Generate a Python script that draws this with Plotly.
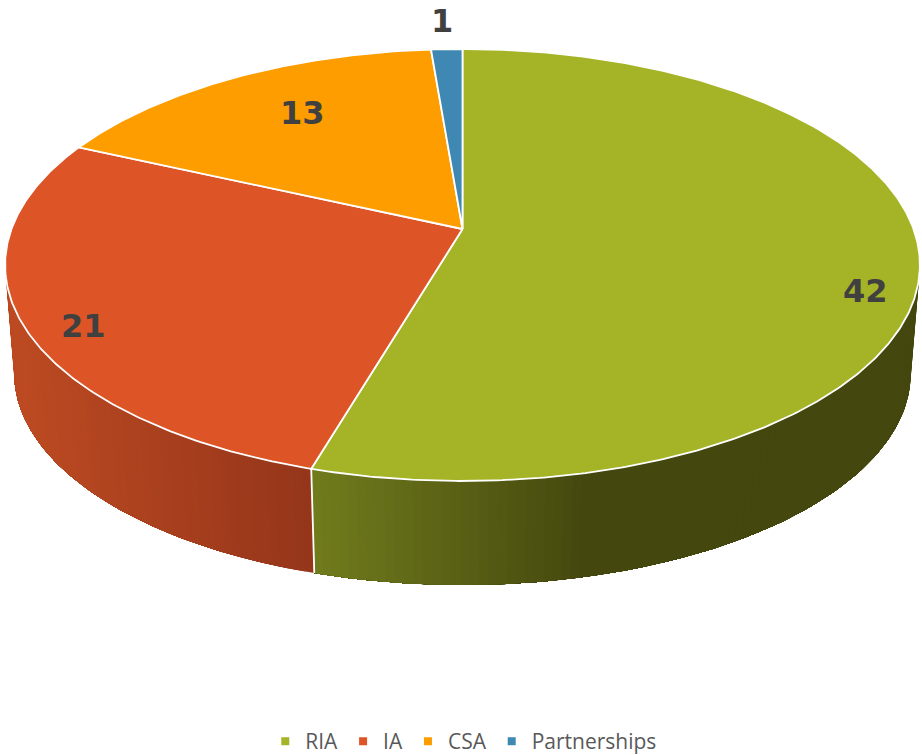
import math
import plotly.graph_objects as go

# --- data ---
categories = ["RIA", "IA", "CSA", "Partnerships"]
values = [42, 21, 13, 1]
colors = ["#A5B427", "#DD5426", "#FE9D00", "#3F88B3"]

# --- layout / projection constants ---
W, H = 922, 755
CX, CY = 462.5, 229.0      # apex of the pie on the page
RX, RY = 451.0, 210.0      # radii of the un-projected disc
K = 1 / 6                  # perspective strength
DEPTH = 109.0              # vertical offset of the bottom disc
BOTTOM_SCALE = 0.98
LABEL_XY = [(865, 291), (83, 326), (302, 113), (442, 20.5)]
SIDE_RAMP = {
    "IA": ((18, (188, 74, 34)), (316, (148, 53, 26))),
    "RIA": ((316, (112, 123, 28)), (590, (68, 71, 14))),
}


def project(deg, bottom=False):
    t = math.radians(deg)
    s = 1 / (1 + K * math.cos(t))
    x, y = RX * math.sin(t) * s, -RY * math.cos(t) * s
    if bottom:
        return CX + x * BOTTOM_SCALE, CY + DEPTH + y * BOTTOM_SCALE
    return CX + x, CY + y


def ramp(name, x):
    (x0, c0), (x1, c1) = SIDE_RAMP[name]
    f = max(0.0, min(1.0, (x - x0) / (x1 - x0)))
    r, g, b = [round(a + (b - a) * f) for a, b in zip(c0, c1)]
    return f"rgb({r},{g},{b})"


def arange(a, b, step):
    n = max(1, int(abs(b - a) / step))
    return [a + (b - a) * i / n for i in range(n + 1)]


total = sum(values)
edges = [0.0]
for v in values:
    edges.append(edges[-1] + 360.0 * v / total)

fig = go.Figure()

# visible wall: painted as overlapping bands, each running on to the far end of
# its slice, so that no background shows between neighbouring bands
tangent = math.degrees(math.acos(-K))
wall_spans = {"RIA": (tangent, edges[1]), "IA": (edges[1], 360 - tangent)}
for name, (a0, a1) in wall_spans.items():
    angles = arange(a0, a1, 1.0)
    for a, b in zip(angles[:-1], angles[1:]):
        span = arange(a, a1, 1.0)
        top = [project(t) for t in span]
        bot = [project(t, True) for t in reversed(span)]
        pts = top + bot + [top[0]]
        col = ramp(name, (project(a)[0] + project(b)[0]) / 2)
        fig.add_trace(go.Scatter(x=[p[0] for p in pts], y=[p[1] for p in pts], mode="lines",
                                 fill="toself", fillcolor=col, line=dict(width=0),
                                 showlegend=False, hoverinfo="skip"))

# white seam on the wall
seam = [project(edges[1]), project(edges[1], True)]
fig.add_trace(go.Scatter(x=[p[0] for p in seam], y=[p[1] for p in seam], mode="lines",
                         line=dict(color="white", width=1.8), showlegend=False, hoverinfo="skip"))

# top faces
for i, name in enumerate(categories):
    arc = [project(a) for a in arange(edges[i], edges[i + 1], 0.5)]
    xs = [CX] + [p[0] for p in arc] + [CX]
    ys = [CY] + [p[1] for p in arc] + [CY]
    fig.add_trace(go.Scatter(x=xs, y=ys, mode="lines", fill="toself", fillcolor=colors[i],
                             line=dict(color="white", width=1.8), showlegend=False,
                             name=name, hoverinfo="name"))

# legend keys
for name, col in zip(categories, colors):
    fig.add_trace(go.Scatter(x=[None], y=[None], mode="markers", name=name,
                             marker=dict(symbol="square", size=8, color=col)))

for v, (lx, ly) in zip(values, LABEL_XY):
    fig.add_annotation(x=lx, y=ly, text=f"<b>{v}</b>", showarrow=False,
                       font=dict(family="DejaVu Sans", size=32, color="#404040"))

fig.update_xaxes(range=[0, W], visible=False, fixedrange=True)
fig.update_yaxes(range=[H, 0], visible=False, fixedrange=True)
fig.update_layout(
    width=W, height=H, margin=dict(l=0, r=0, t=0, b=0, autoexpand=False),
    paper_bgcolor="white", plot_bgcolor="white",
    legend=dict(orientation="h", x=0.503, xanchor="center",
                yref="container", y=0.045, yanchor="top",
                font=dict(family="Open Sans", size=21, color="#595959"),
                bgcolor="rgba(0,0,0,0)"),
)
fig.write_html("out.html", config={"displayModeBar": False},
               post_script="document.body.style.margin='0';")
